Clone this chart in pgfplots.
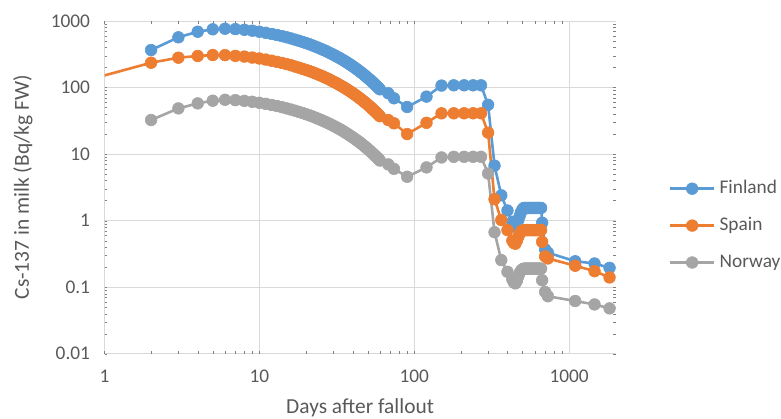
\documentclass[border=0pt]{standalone}
\usepackage{fontspec}
\setmainfont{Carlito}
\usepackage{pgfplots}
\usepackage{pgfplotstable}
\pgfplotsset{compat=1.18}

\definecolor{fin}{HTML}{5B9BD5}
\definecolor{spa}{HTML}{ED7D31}
\definecolor{nor}{HTML}{A5A5A5}
\definecolor{txt}{HTML}{595959}
\definecolor{gridc}{HTML}{D9D9D9}

% Cs-137 activity concentration in milk (Bq/kg fresh weight) vs. days after fallout
\pgfplotstableread{
d v
2 366
3 569
4 690
5 750
6 766
7 756
8 738
9 715
10 690
11 665
12 640
13 616
14 592
15 569
16 547
17 525
18 505
19 485
20 466
21 448
22 430
23 413
24 397
25 381
26 366
27 352
28 338
29 325
30 312
31 300
32 288
33 277
34 266
35 256
36 246
37 236
38 227
39 218
40 209
41 201
42 193
43 186
44 178
45 171
46 165
47 158
48 152
49 146
50 140
51 135
52 130
53 124
54 120
55 115
56 110
57 106
58 102
59 98
60 94
68 82
74 69
90 51
120 73
150 107
180 108
210 108
240 108
270 108
300 55
330 6.7
365 2.4
400 1.42
430 0.96
440 0.85
450 0.81
460 0.88
470 1.02
480 1.18
490 1.35
500 1.48
510 1.55
520 1.55
530 1.55
540 1.55
550 1.55
560 1.55
570 1.55
580 1.55
590 1.55
600 1.55
610 1.55
620 1.55
630 1.55
640 1.55
650 1.55
660 1.55
670 0.93
700 0.37
730 0.33
1095 0.245
1460 0.227
1825 0.195
}\finland

\pgfplotstableread{
d v
2 236
3 281
4 298
5 308
6 307
7 299
8 292
9 282
10 273
11 263
12 253
13 243
14 234
15 225
16 216
17 207
18 199
19 191
20 184
21 177
22 170
23 163
24 157
25 151
26 145
27 139
28 134
29 128
30 123
31 118.5
32 114
33 109
34 105
35 101
36 97
37 93
38 89.5
39 86
40 82.7
41 79.4
42 76.3
43 73.3
44 70.5
45 67.7
46 65
47 62.5
48 60
49 57.7
50 55.4
51 53.2
52 51.2
53 49.1
54 47.2
55 45.4
56 43.6
57 41.9
58 40.3
59 38.7
60 37.1
68 32.5
74 29
90 20
120 29.5
150 41
180 41
210 41
240 41
270 41
300 21
330 2.1
365 1.02
400 0.72
430 0.5
440 0.46
450 0.45
460 0.5
470 0.57
480 0.64
490 0.69
500 0.71
510 0.72
520 0.72
530 0.72
540 0.72
550 0.72
560 0.72
570 0.72
580 0.72
590 0.72
600 0.72
610 0.72
620 0.72
630 0.72
640 0.72
650 0.72
660 0.72
670 0.48
700 0.29
730 0.27
1095 0.21
1460 0.174
1825 0.14
}\spain

\pgfplotstableread{
d v
2 32.5
3 48.6
4 57.8
5 63.4
6 65.5
7 64.6
8 63.1
9 61.1
10 59.0
11 56.9
12 54.7
13 52.7
14 50.6
15 48.6
16 46.7
17 44.9
18 43.1
19 41.5
20 39.8
21 38.3
22 36.8
23 35.3
24 33.9
25 32.6
26 31.3
27 30.1
28 28.9
29 27.8
30 26.7
31 25.7
32 24.6
33 23.7
34 22.8
35 21.9
36 21.0
37 20.2
38 19.4
39 18.6
40 17.9
41 17.2
42 16.5
43 15.9
44 15.3
45 14.7
46 14.1
47 13.5
48 13.0
49 12.5
50 12.0
51 11.5
52 11.1
53 10.6
54 10.2
55 9.8
56 9.4
57 9.1
58 8.7
59 8.4
60 8.0
68 7.0
74 6.0
90 4.56
120 6.3
150 8.9
180 9.1
210 9.1
240 9.1
270 9.1
300 5.1
330 0.67
365 0.255
400 0.17
430 0.13
440 0.118
450 0.114
460 0.125
470 0.145
480 0.165
490 0.178
500 0.186
510 0.19
520 0.19
530 0.19
540 0.19
550 0.19
560 0.19
570 0.19
580 0.19
590 0.19
600 0.19
610 0.19
620 0.19
630 0.19
640 0.19
650 0.19
660 0.19
670 0.127
700 0.085
730 0.073
1095 0.062
1460 0.055
1825 0.048
}\norway

\begin{document}
\begin{tikzpicture}
\path[use as bounding box] (0,0) rectangle (781bp,419bp);
\begin{axis}[
  at={(104.5bp,65.3bp)}, anchor=south west,
  scale only axis, width=511.2bp, height=332.7bp,
  xmode=log, ymode=log,
  xmin=1, xmax=2000, ymin=0.01, ymax=1000,
  xtick={1,10,100,1000}, xticklabels={1,10,100,1000},
  ytick={0.01,0.1,1,10,100,1000},
  yticklabels={0.01,0.1,1,10,100,1000},
  minor xtick={}, minor ytick={},
  major tick length=0pt,
  grid=major,
  major grid style={draw=gridc, line width=0.8bp},
  axis line style={draw=none},
  tick label style={font=\fontsize{19.4}{23}\selectfont, text=txt},
  yticklabel style={xshift=-11bp},
  xticklabel style={yshift=-13bp},
  xlabel={Days after fallout},
  ylabel={Cs-137 in milk (Bq/kg FW)},
  label style={font=\fontsize{21.5}{26}\selectfont, text=txt},
  xlabel style={at={(axis description cs:0.5,-0.180)}, anchor=base},
  ylabel style={at={(axis description cs:-0.1477,0.5)}, anchor=base},
  every axis plot/.append style={line width=2.6bp, line join=round},
  legend image code/.code={%
    \draw[mark repeat=2,mark phase=2] plot coordinates {(0bp,0bp) (21.85bp,0bp) (43.7bp,0bp)};},
  legend cell align=left,
  legend style={at={(axis description cs:1.1043,0.523)}, anchor=north west,
    draw=none, fill=none, inner sep=0pt, outer sep=0pt,
    font=\fontsize{19.4}{23}\selectfont, text=txt, row sep=18.9bp,
    nodes={inner sep=0pt, text height=14bp, text depth=4bp},
    /tikz/every odd column/.append style={column sep=4.3bp}},
]
\addplot[spa, forget plot] coordinates {(0.5,98) (2,236)};
\addplot[fin, mark=*, mark size=5.85bp, mark options={fill=fin, draw=fin, line width=0.6bp}] table[x=d, y=v] {\finland};
\addlegendentry{Finland}
\addplot[spa, mark=*, mark size=5.85bp, mark options={fill=spa, draw=spa, line width=0.6bp}] table[x=d, y=v] {\spain};
\addlegendentry{Spain}
\addplot[nor, mark=*, mark size=5.85bp, mark options={fill=nor, draw=nor, line width=0.6bp}] table[x=d, y=v] {\norway};
\addlegendentry{Norway}
\end{axis}
\end{tikzpicture}
\end{document}
